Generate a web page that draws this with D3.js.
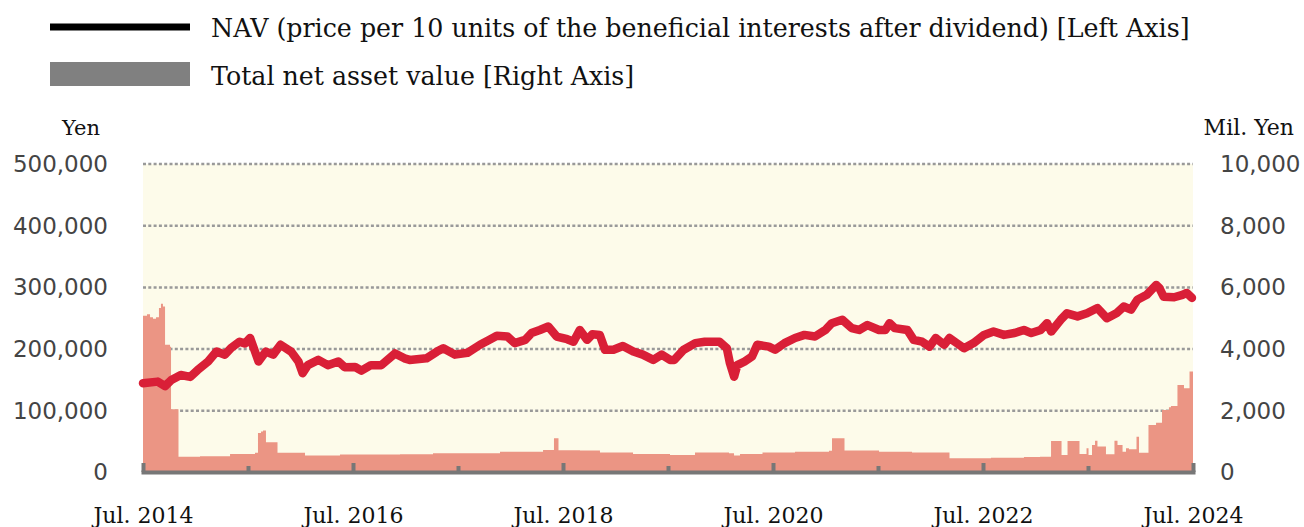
<!DOCTYPE html>
<html>
<head>
<meta charset="utf-8">
<script src="https://cdn.jsdelivr.net/npm/d3@7"></script>
<style>
  body { margin: 0; background: #fff; }
</style>
</head>
<body>
<svg id="chart"></svg>
<script>
// NAV per 10 units (yen), time as decimal year
const navT = [2014.50, 2014.64, 2014.71, 2014.77, 2014.86, 2014.95, 2015.02, 2015.12, 2015.20, 2015.28,
  2015.34, 2015.42, 2015.47, 2015.52, 2015.55, 2015.60, 2015.67, 2015.74, 2015.81, 2015.91,
  2015.98, 2016.02, 2016.07, 2016.17, 2016.26, 2016.36, 2016.42, 2016.52, 2016.58, 2016.67,
  2016.77, 2016.90, 2016.99, 2017.04, 2017.20, 2017.30, 2017.36, 2017.47, 2017.59, 2017.71,
  2017.80, 2017.87, 2017.97, 2018.04, 2018.14, 2018.20, 2018.28, 2018.36, 2018.44, 2018.54,
  2018.60, 2018.66, 2018.73, 2018.78, 2018.85, 2018.90, 2018.98, 2019.07, 2019.17, 2019.26,
  2019.36, 2019.44, 2019.52, 2019.56, 2019.65, 2019.76, 2019.85, 2019.99, 2020.06, 2020.09,
  2020.13, 2020.16, 2020.23, 2020.30, 2020.35, 2020.46, 2020.52, 2020.61, 2020.71, 2020.80,
  2020.90, 2021.00, 2021.06, 2021.16, 2021.25, 2021.32, 2021.40, 2021.51, 2021.57, 2021.61,
  2021.66, 2021.78, 2021.84, 2021.92, 2021.99, 2022.05, 2022.13, 2022.18, 2022.25, 2022.32,
  2022.41, 2022.51, 2022.60, 2022.70, 2022.80, 2022.89, 2022.96, 2023.05, 2023.11, 2023.15,
  2023.24, 2023.30, 2023.40, 2023.49, 2023.59, 2023.68, 2023.77, 2023.84, 2023.91, 2023.97,
  2024.06, 2024.15, 2024.18, 2024.22, 2024.32, 2024.40, 2024.44, 2024.49];
const navV = [144700, 147300, 140000, 150000, 158000, 155000, 166000, 180000, 196000, 191000,
  202000, 212000, 209000, 218000, 204000, 180000, 196000, 191000, 207000, 196000,
  180000, 161000, 174000, 182500, 174000, 180000, 170700, 171000, 165000, 174000,
  174000, 193000, 185000, 182500, 185000, 196000, 201500, 191000, 194000, 207000,
  215000, 221500, 220400, 209700, 215000, 226000, 231000, 236600, 220400, 216000,
  212000, 231000, 215000, 224000, 223000, 199000, 199000, 205000, 196000, 191000,
  182500, 191000, 182500, 182500, 199000, 209700, 212000, 212000, 201500, 177000,
  155400, 174000, 180000, 188000, 207000, 204000, 199000, 209700, 218000, 223000,
  220400, 231000, 242000, 247500, 234000, 231000, 239000, 231000, 231000, 242000,
  234000, 231000, 215000, 212000, 204000, 218000, 207000, 218000, 209700, 201500,
  209700, 223000, 228500, 223000, 226000, 231000, 226000, 231000, 242000, 228500,
  247500, 258000, 253000, 258000, 266500, 250000, 258000, 269000, 264000, 280000,
  288000, 304000, 299000, 285000, 284000, 288000, 291000, 283000];

// Total net asset value (million yen)
const tnaT = [2014.500, 2014.538, 2014.567, 2014.595, 2014.624, 2014.652, 2014.671, 2014.690, 2014.710, 2014.757,
  2014.767, 2014.838, 2015.043, 2015.329, 2015.567, 2015.595, 2015.624, 2015.643, 2015.671, 2015.781,
  2016.043, 2016.376, 2016.948, 2017.262, 2017.900, 2018.310, 2018.414, 2018.457, 2018.662, 2018.852,
  2019.167, 2019.519, 2019.757, 2020.081, 2020.129, 2020.186, 2020.400, 2020.710, 2021.033, 2021.062,
  2021.181, 2021.510, 2021.824, 2022.181, 2022.576, 2022.890, 2023.043, 2023.148, 2023.248, 2023.305,
  2023.419, 2023.486, 2023.505, 2023.538, 2023.567, 2023.590, 2023.671, 2023.752, 2023.781, 2023.829,
  2023.862, 2023.890, 2023.962, 2023.986, 2024.076, 2024.148, 2024.205, 2024.271, 2024.290, 2024.352,
  2024.414, 2024.467, 2024.500];
const tnaV = [5080, 5130, 5030, 4980, 5030, 5330, 5470, 5380, 4140, 4080,
  2050, 510, 530, 600, 640, 1280, 1330, 1360, 980, 640,
  550, 580, 590, 620, 675, 730, 1110, 720, 710, 645,
  600, 570, 645, 620, 550, 600, 645, 675, 708, 1110,
  710, 675, 645, 460, 480, 500, 510, 1020, 567, 1020,
  600, 784, 567, 892, 1032, 840, 589, 1032, 892, 675,
  784, 751, 1162, 643, 1541, 1616, 2028, 2116, 2158, 2840,
  2732, 3272, 3272];

const yenTicks = [0, 100000, 200000, 300000, 400000, 500000];
const milTicks = [0, 2000, 4000, 6000, 8000, 10000];
const labelYears = [2014, 2016, 2018, 2020, 2022, 2024];
const minorYears = [2015, 2017, 2019, 2021, 2023];
const legendLabels = [
  "NAV (price per 10 units of the beneficial interests after dividend) [Left Axis]",
  "Total net asset value [Right Axis]"
];

const width = 1304;
const height = 527;
const plotLeft = 143, plotRight = 1193, plotTop = 164, plotBottom = 472.5;

const svg = d3.select("#chart").attr("width", width).attr("height", height);

const x = d3.scaleLinear().domain([2014.5, 2024.5]).range([plotLeft, plotRight]);
const yL = d3.scaleLinear().domain([0, 500000]).range([plotBottom, plotTop]);
const yR = d3.scaleLinear().domain([0, 10000]).range([plotBottom, plotTop]);

// plot background
svg.append("rect")
  .attr("x", plotLeft).attr("y", plotTop)
  .attr("width", plotRight - plotLeft).attr("height", plotBottom - plotTop)
  .attr("fill", "#fdfbea");

// dotted grid
svg.append("g")
  .selectAll("line")
  .data(yenTicks.filter((d) => d > 0))
  .enter()
  .append("line")
  .attr("x1", plotLeft).attr("x2", plotRight)
  .attr("y1", (d) => yL(d)).attr("y2", (d) => yL(d))
  .attr("stroke", "#999")
  .attr("stroke-width", 2.5)
  .attr("stroke-dasharray", "3,2.3");

// total net asset area
const tna = tnaT.map((t, i) => ({ t: t, v: tnaV[i] }));
const area = d3.area()
  .curve(d3.curveStepAfter)
  .x((d) => x(d.t))
  .y0(yR(0))
  .y1((d) => yR(d.v));
svg.append("path").datum(tna).attr("d", area).attr("fill", "#eb9584");

// NAV line
const nav = navT.map((t, i) => ({ t: t, v: navV[i] }));
const line = d3.line().x((d) => x(d.t)).y((d) => yL(d.v));
svg.append("path")
  .datum(nav)
  .attr("d", line)
  .attr("fill", "none")
  .attr("stroke", "#d91f37")
  .attr("stroke-width", 8.5)
  .attr("stroke-linejoin", "round")
  .attr("stroke-linecap", "round");

// bottom axis
const axisY = 472;
const minorAxis = d3.axisBottom(x)
  .tickValues(minorYears.map((yr) => yr + 0.5))
  .tickSize(-6).tickSizeOuter(0).tickFormat("");
svg.append("g").attr("transform", `translate(0, ${axisY})`).call(minorAxis)
  .call((g) => g.select(".domain").remove())
  .call((g) => g.selectAll(".tick line").attr("stroke", "#777").attr("stroke-width", 4));

const majorAxis = d3.axisBottom(x)
  .tickValues(labelYears.map((yr) => yr + 0.5))
  .tickSize(-9).tickSizeOuter(0).tickPadding(35)
  .tickFormat((d) => "Jul. " + Math.floor(d));
svg.append("g").attr("transform", `translate(0, ${axisY})`).call(majorAxis)
  .call((g) => g.select(".domain").attr("stroke", "#777").attr("stroke-width", 4).attr("stroke-linecap", "square"))
  .call((g) => g.selectAll(".tick line").attr("stroke", "#777").attr("stroke-width", 4))
  .call((g) => g.selectAll(".tick text")
    .attr("fill", "#111")
    .style("font-family", "'DejaVu Serif', serif")
    .style("font-size", "22px"));

// left axis labels
const leftAxis = d3.axisLeft(yL).tickValues(yenTicks).tickSize(0).tickPadding(0).tickFormat(d3.format(","));
svg.append("g").attr("transform", "translate(108, 0)").call(leftAxis)
  .call((g) => g.select(".domain").remove())
  .call((g) => g.selectAll(".tick text")
    .attr("fill", "#444")
    .style("font-family", "'DejaVu Sans', sans-serif")
    .style("font-size", "23px"));

// right axis labels
const rightAxis = d3.axisRight(yR).tickValues(milTicks).tickSize(0).tickPadding(0).tickFormat(d3.format(","));
svg.append("g").attr("transform", "translate(1220, 0)").call(rightAxis)
  .call((g) => g.select(".domain").remove())
  .call((g) => g.selectAll(".tick text")
    .attr("fill", "#444")
    .style("font-family", "'DejaVu Sans', sans-serif")
    .style("font-size", "23px"));

// unit labels
svg.append("text").attr("x", 81).attr("y", 135).attr("text-anchor", "middle")
  .style("font-family", "'DejaVu Serif', serif").style("font-size", "21px").attr("fill", "#111")
  .text("Yen");
svg.append("text").attr("x", 1294).attr("y", 135).attr("text-anchor", "end")
  .style("font-family", "'DejaVu Serif', serif").style("font-size", "22px").attr("fill", "#111")
  .text("Mil. Yen");

// legend
svg.append("line").attr("x1", 50).attr("x2", 190).attr("y1", 27).attr("y2", 27)
  .attr("stroke", "#000").attr("stroke-width", 7);
svg.append("rect").attr("x", 50).attr("y", 62).attr("width", 140).attr("height", 24).attr("fill", "#808080");
svg.selectAll(".legend-text")
  .data(legendLabels)
  .enter()
  .append("text")
  .attr("class", "legend-text")
  .attr("x", 211)
  .attr("y", (d, i) => 37 + i * 48)
  .attr("fill", "#111")
  .style("font-family", "'DejaVu Serif', serif")
  .style("font-size", "25.3px")
  .text((d) => d);
</script>
</body>
</html>
